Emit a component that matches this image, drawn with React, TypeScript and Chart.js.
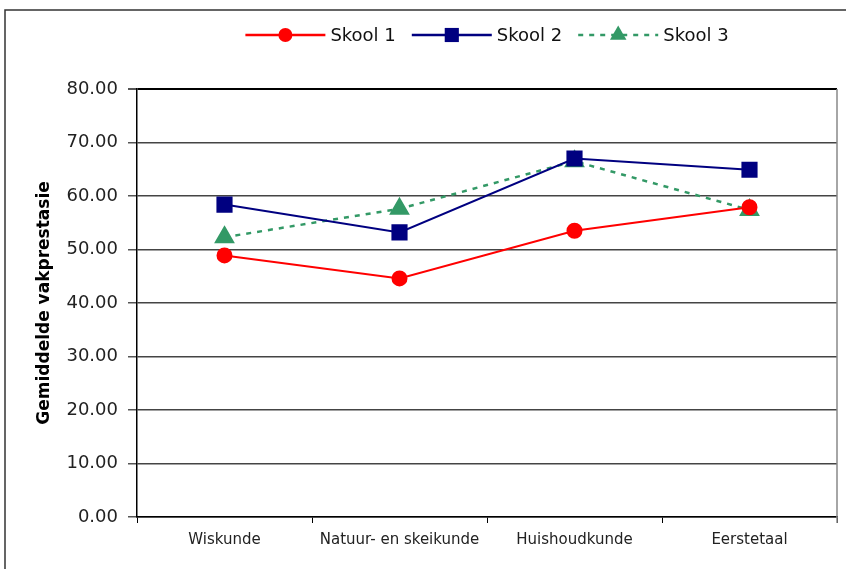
import React, { useEffect, useRef } from "react";
import { Chart, registerables } from "chart.js";

Chart.register(...registerables);

const categories = ["Wiskunde", "Natuur- en skeikunde", "Huishoudkunde", "Eerstetaal"];
const skool1 = [48.9, 44.6, 53.5, 57.9];
const skool2 = [58.4, 53.2, 67.0, 64.9];
const skool3 = [52.3, 57.6, 66.5, 57.4];
const seriesNames = ["Skool 1", "Skool 2", "Skool 3"];
const yTitle = "Gemiddelde vakprestasie";
const FONT = "'DejaVu Sans', sans-serif";

const framePlugin = {
  id: "frame",
  beforeDraw(chart: any) {
    const ctx = chart.ctx;
    ctx.save();
    ctx.fillStyle = "#fff";
    ctx.fillRect(0, 0, chart.width, chart.height);
    ctx.strokeStyle = "#333";
    ctx.lineWidth = 1.5;
    ctx.beginPath();
    ctx.moveTo(5, chart.height + 2);
    ctx.lineTo(5, 10);
    ctx.lineTo(chart.width + 2, 10);
    ctx.stroke();
    ctx.restore();
  },
};

function drawMarker(ctx: CanvasRenderingContext2D, style: string, r: number, x: number, y: number) {
  ctx.beginPath();
  if (style === "circle") {
    ctx.arc(x, y, r, 0, Math.PI * 2);
  } else if (style === "rect") {
    const s = r * Math.SQRT1_2;
    ctx.rect(x - s, y - s, 2 * s, 2 * s);
  } else if (style === "triangle") {
    ctx.moveTo(x, y - r);
    ctx.lineTo(x + Math.sin(Math.PI / 3) * r, y + r / 2);
    ctx.lineTo(x - Math.sin(Math.PI / 3) * r, y + r / 2);
    ctx.closePath();
  }
  ctx.fill();
}

const legendPlugin = {
  id: "customLegend",
  afterDraw(chart: any) {
    const ctx = chart.ctx;
    const { left, right } = chart.chartArea;
    ctx.save();
    ctx.font = `18px ${FONT}`;
    const lineLen = 80;
    const gapText = 5;
    const gapItem = 16;
    const widths = chart.data.datasets.map((d: any) => ctx.measureText(d.label).width);
    let total = 0;
    widths.forEach((w: number, i: number) => {
      total += lineLen + gapText + w + (i < widths.length - 1 ? gapItem : 0);
    });
    let x = (left + right) / 2 - total / 2;
    const y = 35;
    chart.data.datasets.forEach((d: any, i: number) => {
      ctx.strokeStyle = d.borderColor;
      ctx.lineWidth = 2.5;
      ctx.setLineDash(d.borderDash || []);
      ctx.beginPath();
      ctx.moveTo(x, y);
      ctx.lineTo(x + lineLen, y);
      ctx.stroke();
      ctx.setLineDash([]);
      ctx.fillStyle = d.pointBackgroundColor;
      drawMarker(ctx, d.pointStyle, d.pointRadius, x + lineLen / 2, y);
      ctx.fillStyle = "#111";
      ctx.textBaseline = "middle";
      ctx.textAlign = "left";
      ctx.fillText(d.label, x + lineLen + gapText, y + 1);
      x += lineLen + gapText + widths[i] + gapItem;
    });
    ctx.restore();
  },
};

const rightBorderPlugin = {
  id: "rightBorder",
  afterDraw(chart: any) {
    const { right, top, bottom } = chart.chartArea;
    const ctx = chart.ctx;
    ctx.save();
    ctx.strokeStyle = "#888";
    ctx.lineWidth = 1.5;
    ctx.beginPath();
    ctx.moveTo(right, top);
    ctx.lineTo(right, bottom + 6);
    ctx.stroke();
    ctx.restore();
  },
};

export default function App() {
  const ref = useRef<HTMLCanvasElement>(null);
  useEffect(() => {
    if (!ref.current) return;
    const chart = new Chart(ref.current, {
      type: "line",
      data: {
        labels: categories,
        datasets: [
          {
            label: seriesNames[0],
            data: skool1,
            borderColor: "#FF0000",
            backgroundColor: "#FF0000",
            pointBackgroundColor: "#FF0000",
            pointBorderColor: "#FF0000",
            borderWidth: 2,
            pointStyle: "circle",
            pointRadius: 7,
            tension: 0,
          },
          {
            label: seriesNames[1],
            data: skool2,
            borderColor: "#000080",
            backgroundColor: "#000080",
            pointBackgroundColor: "#000080",
            pointBorderColor: "#000080",
            borderWidth: 2,
            pointStyle: "rect",
            pointRadius: 10,
            tension: 0,
          },
          {
            label: seriesNames[2],
            data: skool3,
            borderColor: "#339966",
            backgroundColor: "#339966",
            pointBackgroundColor: "#339966",
            pointBorderColor: "#339966",
            borderWidth: 2.5,
            borderDash: [5, 6],
            pointStyle: "triangle",
            pointRadius: 9.5,
            tension: 0,
          },
        ] as any,
      },
      options: {
        responsive: false,
        animation: false,
        devicePixelRatio: 1,
        layout: { padding: { left: 0, right: 12, top: 89, bottom: 0 } },
        plugins: {
          legend: { display: false },
          tooltip: { enabled: false },
        },
        elements: { point: { borderWidth: 1 } },
        scales: {
          x: {
            offset: true,
            grid: {
              offset: true,
              drawOnChartArea: false,
              drawTicks: true,
              tickLength: 6,
              color: "#000",
            },
            border: { color: "#000", width: 1.5 },
            ticks: {
              color: "#222",
              font: { family: FONT, size: 15 },
              padding: 8,
              maxRotation: 0,
              autoSkip: false,
            },
            afterFit(scale: any) {
              scale.height = 52;
            },
          },
          y: {
            min: 0,
            max: 80,
            ticks: {
              stepSize: 10,
              color: "#222",
              font: { family: FONT, size: 18 },
              padding: 10,
              callback: (v: any) => Number(v).toFixed(2),
            },
            grid: {
              color: (c: any) => (c.tick && c.tick.value === 80 ? "#000" : "#444"),
              lineWidth: (c: any) => (c.tick && c.tick.value === 80 ? 2 : 1.5),
              tickLength: 9,
              tickColor: "#555",
            },
            border: { color: "#000", width: 1.5 },
            title: {
              display: true,
              text: yTitle,
              color: "#000",
              font: { family: FONT, size: 17, weight: "bold" },
              padding: { top: 34, bottom: 0 },
            },
            afterFit(scale: any) {
              scale.width = 137;
            },
          },
        },
      },
      plugins: [framePlugin, rightBorderPlugin, legendPlugin],
    });
    return () => chart.destroy();
  }, []);
  return (
    <div style={{ position: "fixed", left: 0, top: 0, width: 849, height: 569, background: "#fff", overflow: "hidden" }}>
      <canvas ref={ref} width={849} height={569} style={{ width: 849, height: 569, display: "block" }} />
    </div>
  );
}
